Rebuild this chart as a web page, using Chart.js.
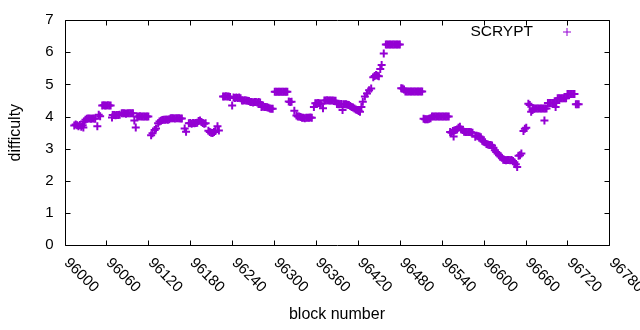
<!DOCTYPE html>
<html><head><meta charset="utf-8">
<script src="https://cdn.jsdelivr.net/npm/chart.js@4.4.0/dist/chart.umd.min.js"></script>
<style>html,body{margin:0;padding:0;background:#fff;}canvas{display:block;}</style>
</head><body>
<canvas id="c" width="640" height="330"></canvas>
<script>
const seriesLabel = 'SCRYPT';
const xTitle = 'block number';
const yTitle = 'difficulty';
const xTicks = [96000,96060,96120,96180,96240,96300,96360,96420,96480,96540,96600,96660,96720,96780];
const yTicks = [0,1,2,3,4,5,6,7];

const blocks = [
 96014,96016,96018,96020,96022,96024,96026,96027,
 96028,96030,96032,96034,96036,96038,96040,96042,96044,
 96047,96049,96051,
 96054,96056,96058,96060,96062,96064,96066,
 96068,96069,96071,96073,96075,96077,96079,
 96082,96084,96086,96088,96090,96092,96094,96096,96098,
 96100,96102,
 96104,96106,96108,96110,96112,96114,96116,96118,96120,
 96124,96126,96129,96131,96134,96136,
 96138,96140,96142,96144,96146,96148,96150,96152,96154,96156,96158,96160,96162,96164,96166,96168,
 96172,96174,
 96178,96180,96182,96184,96186,96188,96190,96192,96194,96196,96198,96200,96202,
 96206,96208,96210,96212,96214,96216,96219,96221,
 96227,96229,96231,96233,96235,96237,96240,96242,96244,96246,96248,96250,96252,
 96254,96256,96258,96260,96262,96264,96266,96268,96270,96272,96274,96276,96278,96280,
 96282,96284,96286,96288,96290,96292,96294,96296,96298,
 96301,96303,96305,96307,96309,96311,96313,96315,96317,96319,
 96321,96323,96325,96329,
 96332,96334,96336,96338,96340,96342,96344,96346,96348,96350,96352,96354,
 96357,
 96359,96361,96363,96365,96367,96370,
 96372,96374,96376,96378,96380,96382,96384,96386,96388,
 96390,96392,96394,96396,96398,96399,96401,96403,96405,96407,96409,96411,96413,96415,96417,96419,96421,96423,
 96425,96427,96430,96433,96436,96439,96442,96444,96446,96448,96450,96452,96454,96457,
 96460,96462,96464,96466,96468,96470,96472,96474,96476,96478,96480,
 96482,96484,96486,96488,96490,96492,96494,96496,96498,96500,96502,96504,96506,96508,96510,96512,
 96514,96516,96518,96520,96522,96524,
 96526,96528,96530,96532,96534,96536,96538,96540,96542,96544,96546,96548,96550,
 96552,96554,96556,96557,96558,96560,96562,96564,96566,96568,96570,96572,96574,96576,96578,96580,96582,96584,
 96588,96590,96592,96594,96596,96598,96600,96602,96604,96606,96608,96610,96612,96614,96616,96618,96620,
 96622,96624,96626,96628,96630,96632,96634,96636,96638,96640,96642,96644,96646,96648,96650,96652,96654,
 96657,96659,96661,
 96664,96666,96668,96670,
 96672,96674,96676,96678,96680,96682,96684,96686,96687,96688,96690,
 96692,96694,96696,96698,96700,96702,96703,96704,
 96706,96708,96710,96712,96714,96716,96718,
 96720,96722,96724,96726,96728,96730,
 96732,96734,96736
];

const difficulty = [
 3.72,3.75,3.73,3.70,3.74,3.68,3.73,3.66,
 3.85,3.90,3.93,3.94,3.94,3.93,3.94,3.94,3.93,
 3.70,4.06,4.01,
 4.34,4.35,4.34,4.34,4.35,4.34,4.34,
 3.97,4.05,4.05,4.04,4.05,4.05,4.06,
 4.10,4.10,4.10,4.09,4.10,4.10,4.10,4.10,4.10,
 3.88,3.66,
 4.00,4.00,4.01,4.00,4.00,4.00,4.00,4.00,4.00,
 3.42,3.48,3.58,3.63,3.79,3.85,
 3.87,3.89,3.90,3.90,3.91,3.90,3.92,3.95,3.95,3.95,3.94,3.95,3.95,3.95,3.94,3.94,
 3.63,3.53,
 3.79,3.80,3.78,3.80,3.79,3.80,3.81,3.86,3.88,3.83,3.80,3.78,3.79,
 3.56,3.52,3.50,3.49,3.52,3.55,3.70,3.57,
 4.62,4.62,4.63,4.62,4.62,4.61,4.34,4.59,4.58,4.59,4.58,4.59,4.57,
 4.50,4.50,4.51,4.50,4.49,4.48,4.45,4.45,4.44,4.45,4.45,4.44,4.45,4.44,
 4.30,4.31,4.30,4.30,4.29,4.27,4.25,4.24,4.24,
 4.77,4.77,4.77,4.77,4.77,4.77,4.77,4.77,4.77,4.77,
 4.47,4.45,4.46,4.18,
 4.03,4.00,4.00,3.99,3.96,3.96,3.95,3.96,3.96,3.96,3.97,3.96,
 4.30,
 4.41,4.41,4.42,4.41,4.40,4.26,
 4.50,4.50,4.51,4.50,4.50,4.50,4.50,4.49,4.49,
 4.39,4.38,4.38,4.39,4.20,4.38,4.38,4.38,4.37,4.36,4.33,4.30,4.28,4.25,4.22,4.20,4.17,4.15,
 4.30,4.46,4.62,4.72,4.82,4.87,5.22,5.26,5.29,5.27,5.25,5.48,5.60,5.96,
 6.24,6.24,6.24,6.24,6.24,6.24,6.24,6.24,6.24,6.24,6.24,
 4.88,4.87,4.84,4.78,4.78,4.78,4.78,4.78,4.78,4.78,4.78,4.78,4.78,4.78,4.78,4.78,
 3.93,3.92,3.92,3.92,3.93,3.95,
 4.00,4.00,4.00,4.00,4.00,4.00,4.00,4.00,4.00,4.00,4.00,4.00,4.00,
 3.52,3.50,3.55,3.38,3.57,3.58,3.60,3.65,3.68,3.60,3.58,3.53,3.52,3.52,3.52,3.52,3.51,3.50,
 3.37,3.40,3.39,3.38,3.36,3.25,3.22,3.20,3.15,3.13,3.12,3.12,3.10,3.03,2.95,2.90,2.85,
 2.80,2.77,2.72,2.66,2.65,2.64,2.65,2.65,2.64,2.65,2.62,2.58,2.52,2.43,2.78,2.80,2.85,
 3.55,3.62,3.65,
 4.40,4.36,4.15,4.20,
 4.25,4.25,4.25,4.25,4.25,4.25,4.25,4.25,3.88,4.25,4.25,
 4.42,4.42,4.42,4.42,4.42,4.42,4.30,4.42,
 4.57,4.57,4.57,4.57,4.57,4.57,4.57,
 4.70,4.70,4.70,4.70,4.70,4.70,
 4.38,4.38,4.38
];

const FONT = '"Liberation Sans", Arial, sans-serif';
const COLOR = '#9400d3';
const n = Math.min(blocks.length, difficulty.length);
const points = [];
for (let i = 0; i < n; i++) points.push({x: blocks[i], y: difficulty[i]});

const framePlugin = {
  id: 'frame',
  afterDraw(chart) {
    const {ctx, chartArea: a, scales: {x, y}} = chart;
    ctx.save();
    ctx.strokeStyle = '#000';
    ctx.lineWidth = 1;
    const L = Math.round(a.left) + 0.5, R = Math.round(a.right) + 0.5;
    const T = Math.round(a.top) + 0.5, B = Math.round(a.bottom) + 0.5;
    ctx.beginPath();
    ctx.rect(L, T, R - L, B - T);
    const tl = 5;
    xTicks.forEach(v => {
      const px = Math.round(x.getPixelForValue(v)) + 0.5;
      ctx.moveTo(px, B); ctx.lineTo(px, B - tl);
      ctx.moveTo(px, T); ctx.lineTo(px, T + tl);
    });
    yTicks.forEach(v => {
      const py = Math.round(y.getPixelForValue(v)) + 0.5;
      ctx.moveTo(L, py); ctx.lineTo(L + tl, py);
      ctx.moveTo(R, py); ctx.lineTo(R - tl, py);
    });
    ctx.stroke();
    ctx.fillStyle = '#000';
    ctx.font = '15px ' + FONT;
    ctx.textAlign = 'left';
    ctx.textBaseline = 'middle';
    xTicks.forEach(v => {
      const px = x.getPixelForValue(v);
      ctx.save();
      ctx.translate(px + 2, B + 15);
      ctx.rotate(Math.PI / 4);
      ctx.fillText(String(v), 0, 0);
      ctx.restore();
    });
    ctx.font = '15.5px ' + FONT;
    ctx.textAlign = 'right';
    ctx.fillText(seriesLabel, 533, 32);
    ctx.strokeStyle = COLOR;
    Chart.helpers.drawPoint(ctx, {pointStyle: 'cross', radius: 4, borderWidth: 1.8}, 567, 32);
    ctx.restore();
  }
};

new Chart(document.getElementById('c'), {
  type: 'scatter',
  data: {
    datasets: [{
      label: seriesLabel,
      data: points,
      showLine: false,
      pointStyle: 'cross',
      pointRadius: 4,
      pointHoverRadius: 4,
      pointBorderWidth: 2,
      borderColor: COLOR,
      backgroundColor: COLOR
    }]
  },
  options: {
    responsive: false,
    animation: false,
    devicePixelRatio: 1,
    layout: {padding: {left: 0, right: 30.6, top: 20, bottom: 0}},
    plugins: {legend: {display: false}, tooltip: {enabled: false}},
    scales: {
      x: {
        type: 'linear', min: 96000, max: 96780,
        afterBuildTicks: s => { s.ticks = xTicks.map(v => ({value: v})); },
        afterFit: s => { s.height = 84.7; },
        ticks: {display: false},
        grid: {display: false, drawTicks: false},
        border: {display: false},
        title: {display: true, text: xTitle, color: '#000', font: {family: FONT, size: 16}, padding: {top: 0, bottom: 6}}
      },
      y: {
        type: 'linear', min: 0, max: 7,
        afterBuildTicks: s => { s.ticks = yTicks.map(v => ({value: v})); },
        afterFit: s => { s.width = 64.5; },
        ticks: {color: '#000', font: {family: FONT, size: 15}, padding: 11},
        grid: {display: false, drawTicks: false},
        border: {display: false},
        title: {display: true, text: yTitle, color: '#000', font: {family: FONT, size: 16}, padding: {top: 6, bottom: 0}}
      }
    }
  },
  plugins: [framePlugin]
});
</script>
</body></html>
